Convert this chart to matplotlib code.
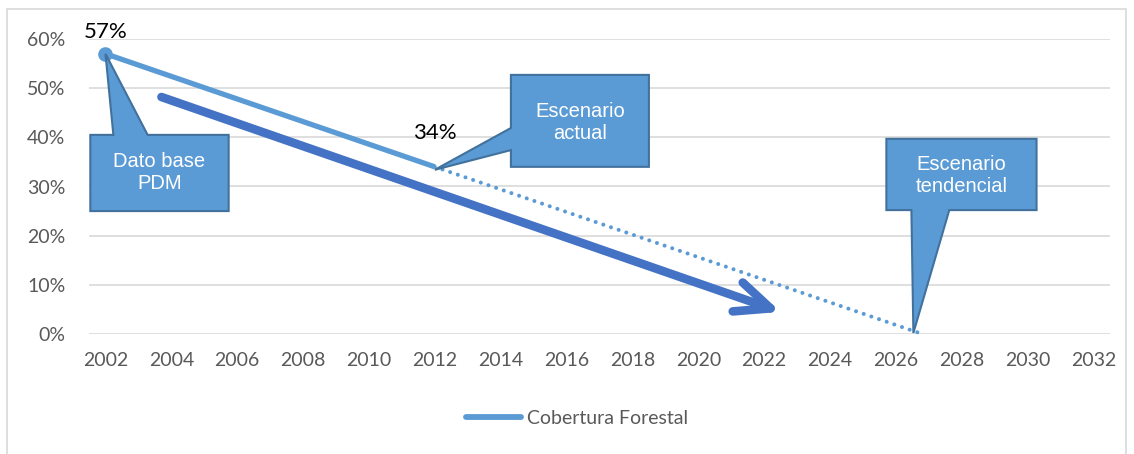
import matplotlib
matplotlib.use("Agg")
import matplotlib.pyplot as plt
from matplotlib.patches import Polygon, FancyArrowPatch, Rectangle
from matplotlib.lines import Line2D
from matplotlib.ticker import FuncFormatter

# ---------------- data ----------------
years = [2002, 2012]
cobertura = [57, 34]                 # % forest cover
trend_years = [2012, 2026.8]          # tendencial scenario (dotted)
trend_values = [34, 0]
arrow_start = (2003.7, 48.2)          # dark trend arrow
arrow_end = (2022.5, 4.5)
x_ticks = list(range(2002, 2033, 2))
y_ticks = [0, 10, 20, 30, 40, 50, 60]
series_label = "Cobertura Forestal"
point_labels = ["57%", "34%"]
callout_texts = ["Dato base\nPDM", "Escenario\nactual", "Escenario\ntendencial"]

# ---------------- style ----------------
LIGHT = "#5B9BD5"
DARK = "#4472C4"
EDGE = "#41719C"
GRID = "#D9D9D9"
TXT = "#595959"
TICKFONT = ["Lato", "DejaVu Sans"]
CALLFONT = ["Liberation Sans", "DejaVu Sans"]

W, H = 1134, 454
fig = plt.figure(figsize=(W / 100, H / 100), dpi=100)
ax = fig.add_axes([89 / W, (H - 334) / H, (1110 - 89) / W, (334 - 39) / H])

# chart border
fig.patches.append(Rectangle((7 / W, -0.05), (1126 - 7) / W, (H - 9) / H + 0.05,
                             transform=fig.transFigure, fill=False,
                             edgecolor=GRID, lw=1.2))

ax.set_xlim(2001.5, 2032.5)
ax.set_ylim(0, 60)
ax.set_xticks(x_ticks)
ax.set_yticks(y_ticks)
ax.yaxis.set_major_formatter(FuncFormatter(lambda v, p: f"{int(v)}%"))
ax.grid(axis="y", color=GRID, lw=1.2, zorder=0)
ax.set_axisbelow(True)
for s in ax.spines.values():
    s.set_visible(False)
ax.tick_params(axis="both", length=0, labelsize=14, labelcolor=TXT)
ax.tick_params(axis="y", pad=17)
ax.tick_params(axis="x", pad=13)
for lab in ax.get_xticklabels() + ax.get_yticklabels():
    lab.set_family(TICKFONT)

# dotted tendencial line
ax.plot(trend_years, trend_values, color=LIGHT, lw=2.9, dashes=(0.01, 2.0),
        dash_capstyle="round", solid_capstyle="round", zorder=3, clip_on=False)
# main series
ax.plot(years, cobertura, color=LIGHT, lw=3.8, solid_capstyle="butt", zorder=4)
ax.plot(years[:1], cobertura[:1], "o", color=LIGHT, ms=9.5, zorder=5)

# dark arrow
arr = FancyArrowPatch(arrow_start, arrow_end,
                      arrowstyle="->,head_length=2.5,head_width=1.1",
                      mutation_scale=10, color=DARK, lw=6.2,
                      capstyle="round", joinstyle="round",
                      shrinkA=0, shrinkB=0, zorder=4)
ax.add_patch(arr)

# point labels
ax.text(years[0], 61.4, point_labels[0], ha="center", va="center",
        fontsize=16, color="black", family=TICKFONT, clip_on=False, zorder=6)
ax.text(years[1], 40.9, point_labels[1], ha="center", va="center",
        fontsize=16, color="black", family=TICKFONT, zorder=6)

# ---------------- callouts (layout in data units) ----------------
def callout(verts, text, cx, cy):
    poly = Polygon(verts, closed=True, facecolor=LIGHT, edgecolor=EDGE,
                   lw=1.5, zorder=7, clip_on=False)
    ax.add_patch(poly)
    ax.text(cx, cy, text, ha="center", va="center", color="white",
            fontsize=14.5, family=CALLFONT, linespacing=1.2, zorder=8)

# callout 1 : pointer from top edge to first data point
x0, x1, yt, yb = 2001.54, 2005.74, 40.5, 25.0
callout([(x0, yt), (2002.24, yt), (years[0], cobertura[0]), (2003.28, yt),
         (x1, yt), (x1, yb), (x0, yb)],
        callout_texts[0], (x0 + x1) / 2, (yt + yb) / 2)

# callout 2 : pointer from left edge to second data point
x0, x1, yt, yb = 2014.31, 2018.50, 52.7, 34.0
callout([(x0, yt), (x1, yt), (x1, yb), (x0, yb), (x0, 37.4),
         (years[1], 33.4), (x0, 41.9)],
        callout_texts[1], (x0 + x1) / 2, (yt + yb) / 2 - 0.3)

# callout 3 : pointer from bottom edge to end of tendencial line
x0, x1, yt, yb = 2025.71, 2030.27, 39.7, 25.2
callout([(x0, yt), (x1, yt), (x1, yb), (2027.62, yb), (2026.53, 0.2),
         (2026.47, yb), (x0, yb)],
        callout_texts[2], (x0 + x1) / 2, (yt + yb) / 2 - 0.2)

# legend
handle = Line2D([], [], color=LIGHT, lw=4.2, solid_capstyle="round")
fig.legend([handle], [series_label], loc="center", bbox_to_anchor=(0.509, 0.079),
           frameon=False, handlelength=2.85, handletextpad=0.3, borderpad=0,
           prop={"family": TICKFONT, "size": 14}, labelcolor=TXT)

fig.savefig("out.png", dpi=100)
